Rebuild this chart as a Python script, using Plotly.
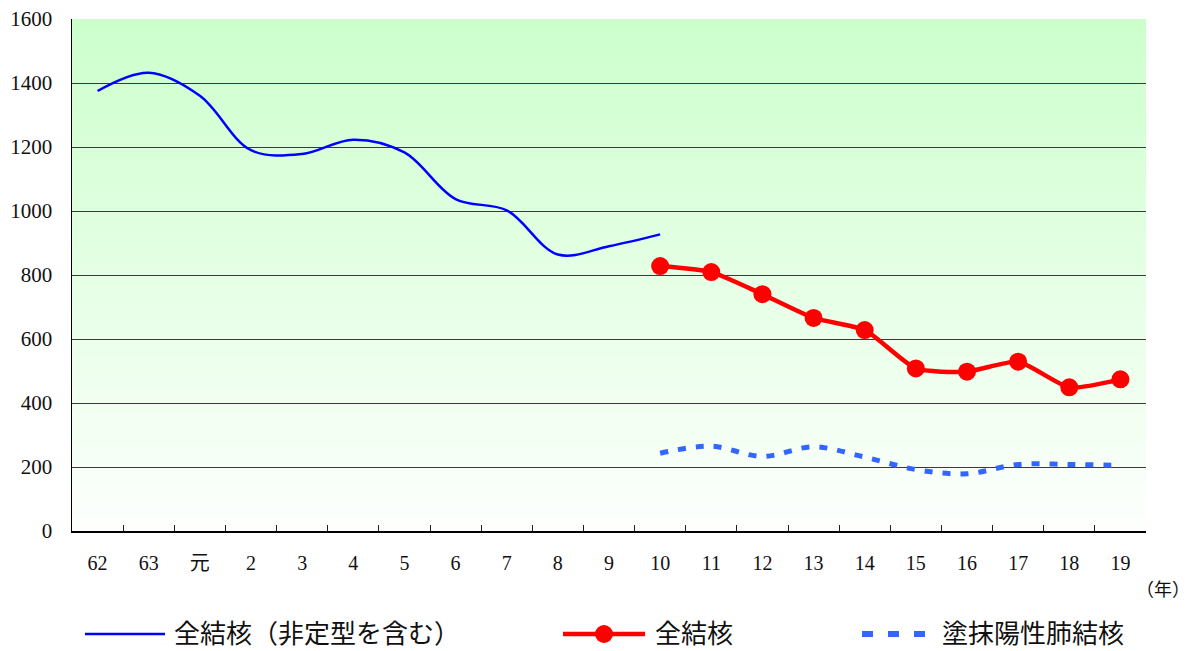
import plotly.graph_objects as go

categories = ["62", "63", "元", "2", "3", "4", "5", "6", "7", "8", "9", "10",
              "11", "12", "13", "14", "15", "16", "17", "18", "19"]

all_tb_incl_atypical_x = categories[0:12]
all_tb_incl_atypical = [1375, 1432, 1360, 1190, 1178, 1223, 1183, 1037, 1002, 864, 890, 927]

all_tb_x = categories[11:]
all_tb = [828, 809, 740, 666, 628, 508, 498, 529, 449, 474]

smear_pos_x = categories[11:]
smear_pos = [243, 265, 233, 263, 231, 192, 179, 208, 208, 205]

y_ticks = [0, 200, 400, 600, 800, 1000, 1200, 1400, 1600]

legend_names = ["全結核（非定型を含む）", "全結核", "塗抹陽性肺結核"]

SERIF = "'Liberation Serif', 'Noto Sans CJK JP', serif"

fig = go.Figure()
fig.add_trace(go.Scatter(
    x=all_tb_incl_atypical_x, y=all_tb_incl_atypical, mode="lines",
    line=dict(color="#0000FF", width=2.5, shape="spline", smoothing=1.0),
    name=legend_names[0], showlegend=False, hoverinfo="skip"))
fig.add_trace(go.Scatter(
    x=smear_pos_x, y=smear_pos, mode="lines",
    line=dict(color="#3366FF", width=5, shape="spline", smoothing=1.0, dash="8px,10px"),
    name=legend_names[2], showlegend=False, hoverinfo="skip"))
fig.add_trace(go.Scatter(
    x=all_tb_x, y=all_tb, mode="lines+markers",
    line=dict(color="#FF0000", width=4.5, shape="spline", smoothing=0.6),
    marker=dict(color="#FF0000", size=18),
    name=legend_names[1], showlegend=False, hoverinfo="skip"))

# background vertical gradient (light green at top to near-white at bottom)
shapes = []
n = 100
top = (204, 255, 204)
bot = (253, 255, 253)
for i in range(n):
    f0 = i / n
    f1 = (i + 1) / n
    t = (f0 + f1) / 2
    c = tuple(round(bot[k] + (top[k] - bot[k]) * t) for k in range(3))
    shapes.append(dict(type="rect", xref="paper", yref="paper", x0=0, x1=1,
                       y0=f0, y1=min(1, f1 + 0.002), fillcolor="rgb(%d,%d,%d)" % c,
                       line=dict(width=0), layer="below"))

# manual legend
ly = -(634 - 531) / 512.0
def px(x):
    return (x - 72) / 1074.0

shapes.append(dict(type="line", xref="paper", yref="paper", x0=px(85), x1=px(165),
                   y0=ly, y1=ly, line=dict(color="#0000FF", width=2.5)))
shapes.append(dict(type="line", xref="paper", yref="paper", x0=px(563), x1=px(645),
                   y0=ly, y1=ly, line=dict(color="#FF0000", width=4.5)))
shapes.append(dict(type="circle", xref="paper", yref="paper", xsizemode="pixel",
                   ysizemode="pixel", xanchor=px(604), yanchor=ly, x0=-9, x1=9,
                   y0=-9, y1=9, fillcolor="#FF0000", line=dict(width=0)))
shapes.append(dict(type="line", xref="paper", yref="paper", x0=px(862), x1=px(930),
                   y0=ly, y1=ly, line=dict(color="#3366FF", width=6, dash="11px,15px")))

annotations = [
    dict(text=legend_names[0], x=px(172), y=ly, xref="paper", yref="paper",
         xanchor="left", yanchor="middle", showarrow=False,
         font=dict(family=SERIF, size=26, color="#111")),
    dict(text=legend_names[1], x=px(653), y=ly, xref="paper", yref="paper",
         xanchor="left", yanchor="middle", showarrow=False,
         font=dict(family=SERIF, size=26, color="#111")),
    dict(text=legend_names[2], x=px(940), y=ly, xref="paper", yref="paper",
         xanchor="left", yanchor="middle", showarrow=False,
         font=dict(family=SERIF, size=26, color="#111")),
    dict(text="（年）", x=px(1163), y=-(590 - 531) / 512.0, xref="paper", yref="paper",
         xanchor="center", yanchor="middle", showarrow=False,
         font=dict(family=SERIF, size=18, color="#111")),
]

fig.update_layout(
    width=1194, height=651,
    margin=dict(l=72, r=48, t=19, b=120, autoexpand=False),
    paper_bgcolor="white", plot_bgcolor="white",
    font=dict(family=SERIF, color="#111"),
    shapes=shapes, annotations=annotations, showlegend=False,
    xaxis=dict(type="category", categoryorder="array", categoryarray=categories,
               tickvals=categories, ticktext=categories,
               range=[-0.5, len(categories) - 0.5], tickson="boundaries",
               ticks="inside", ticklen=6, tickcolor="#222", tickwidth=1,
               showline=True, linecolor="#000", linewidth=1.5, showgrid=False,
               tickfont=dict(family=SERIF, size=20, color="#111"),
               ticklabelstandoff=13, fixedrange=True, automargin=False),
    yaxis=dict(range=[0, 1600], tickvals=y_ticks, showgrid=True,
               gridcolor="#3a3a3a", gridwidth=1, zeroline=False,
               showline=True, linecolor="#000", linewidth=1.5, ticks="",
               tickfont=dict(family=SERIF, size=21, color="#111"),
               ticklabelstandoff=14, fixedrange=True, automargin=False),
)

fig.write_html("out.html", config={"displayModeBar": False, "staticPlot": True},
               post_script="document.body.style.margin='0';")
